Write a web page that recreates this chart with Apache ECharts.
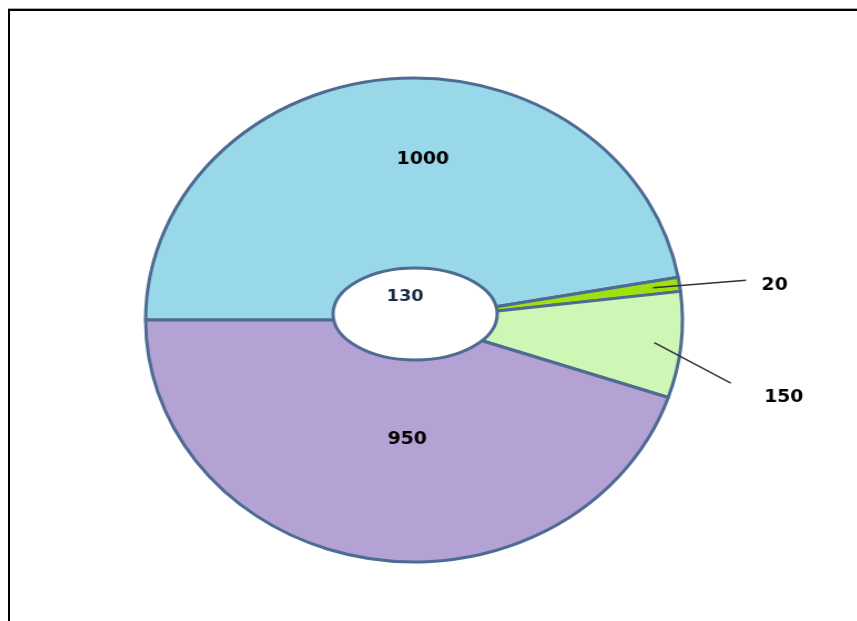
<!DOCTYPE html>
<html>
<head>
<meta charset="utf-8">
<script src="https://cdn.jsdelivr.net/npm/echarts@6/dist/echarts.min.js"></script>
<style>
  html, body { margin: 0; padding: 0; background: #fff; overflow: hidden; }
  #frame {
    position: absolute; left: 8px; top: 9px; width: 860px; height: 640px;
    border-top: 2px solid #000; border-left: 2px solid #000;
    box-shadow: 0 -1px 0 #aaa;
  }
  /* the original picture is stretched sideways, so the pie is an ellipse */
  #chart {
    position: absolute; left: 0; top: 0; width: 857px; height: 621px;
    transform: scaleX(1.109); transform-origin: 414px 0;
  }
</style>
</head>
<body>
<div id="frame"></div>
<div id="chart"></div>
<script>
// data
const categories = ['A', 'B', 'C', 'D'];
const values = [1000, 20, 150, 950];
const sliceColors = ['#98d8e8', '#9ee010', '#cef6b4', '#b3a2d3'];
const insideLabel = [true, false, false, true];
const holeValue = 130;

const cx = 414, cy = 320, radius = 242;
const edgeColor = '#4e6b94';
const labelFont = { fontFamily: 'DejaVu Sans', fontWeight: 'bold', fontSize: 17, color: '#000' };

const chart = echarts.init(document.getElementById('chart'));

// slices, with the big values written inside
const pieData = categories.map(function (name, i) {
    return {
        name: name,
        value: values[i],
        itemStyle: { color: sliceColors[i] },
        label: { show: insideLabel[i] }
    };
});

// same slices again, invisible, on top: carries the outside labels and leader lines
const guideData = categories.map(function (name, i) {
    return {
        name: name,
        value: values[i],
        label: { show: !insideLabel[i] },
        labelLine: { show: !insideLabel[i] }
    };
});

chart.setOption({
    animation: false,
    series: [
        {
            type: 'pie',
            z: 2,
            center: [cx, cy],
            radius: [0, radius],
            startAngle: 180,
            silent: true,
            itemStyle: { borderColor: edgeColor, borderWidth: 3 },
            label: Object.assign({ position: 'inside', formatter: '{c}' }, labelFont),
            labelLine: { show: false },
            labelLayout: function (params) {
                if (params.dataIndex === 0) return { dx: 19, dy: -37 };
                return { dx: 14, dy: -3 };
            },
            data: pieData
        },
        {
            type: 'pie',
            z: 3,
            center: [cx, cy],
            radius: [0, radius],
            startAngle: 180,
            silent: true,
            avoidLabelOverlap: false,
            itemStyle: { color: 'rgba(0,0,0,0)', borderWidth: 0 },
            label: Object.assign({ position: 'outside', formatter: '{c}' }, labelFont),
            labelLine: {
                length: 15,
                length2: 40,
                lineStyle: { color: '#333', width: 1.5 }
            },
            labelLayout: function (params) {
                const pts = params.labelLinePoints;
                if (!pts || !pts[0]) return {};
                const p0 = pts[0];
                // start the leader line a little inside the slice
                const sx = cx + (p0[0] - cx) * 0.9;
                const sy = cy + (p0[1] - cy) * 0.9;
                if (params.dataIndex === 1) {
                    return {
                        x: p0[0] + 74, y: p0[1] + 1,
                        align: 'left', verticalAlign: 'middle',
                        labelLinePoints: [[sx, sy], [p0[0] + 60, p0[1] - 4]]
                    };
                }
                return {
                    x: p0[0] + 75, y: p0[1] + 53,
                    align: 'left', verticalAlign: 'middle',
                    labelLinePoints: [[sx, sy], [p0[0] + 45, p0[1] + 38]]
                };
            },
            data: guideData
        }
    ],
    graphic: [
        {
            type: 'ellipse',
            shape: { cx: cx + 1, cy: cy - 6, rx: 74, ry: 46 },
            style: { fill: '#fff', stroke: edgeColor, lineWidth: 3 },
            z: 100
        },
        {
            type: 'text',
            x: cx - 8, y: cy - 23,
            style: {
                text: String(holeValue),
                fontFamily: 'DejaVu Sans',
                fontWeight: 'bold',
                fontSize: 16,
                fill: '#1c2c44',
                align: 'center',
                verticalAlign: 'middle'
            },
            z: 101
        }
    ]
});
</script>
</body>
</html>
